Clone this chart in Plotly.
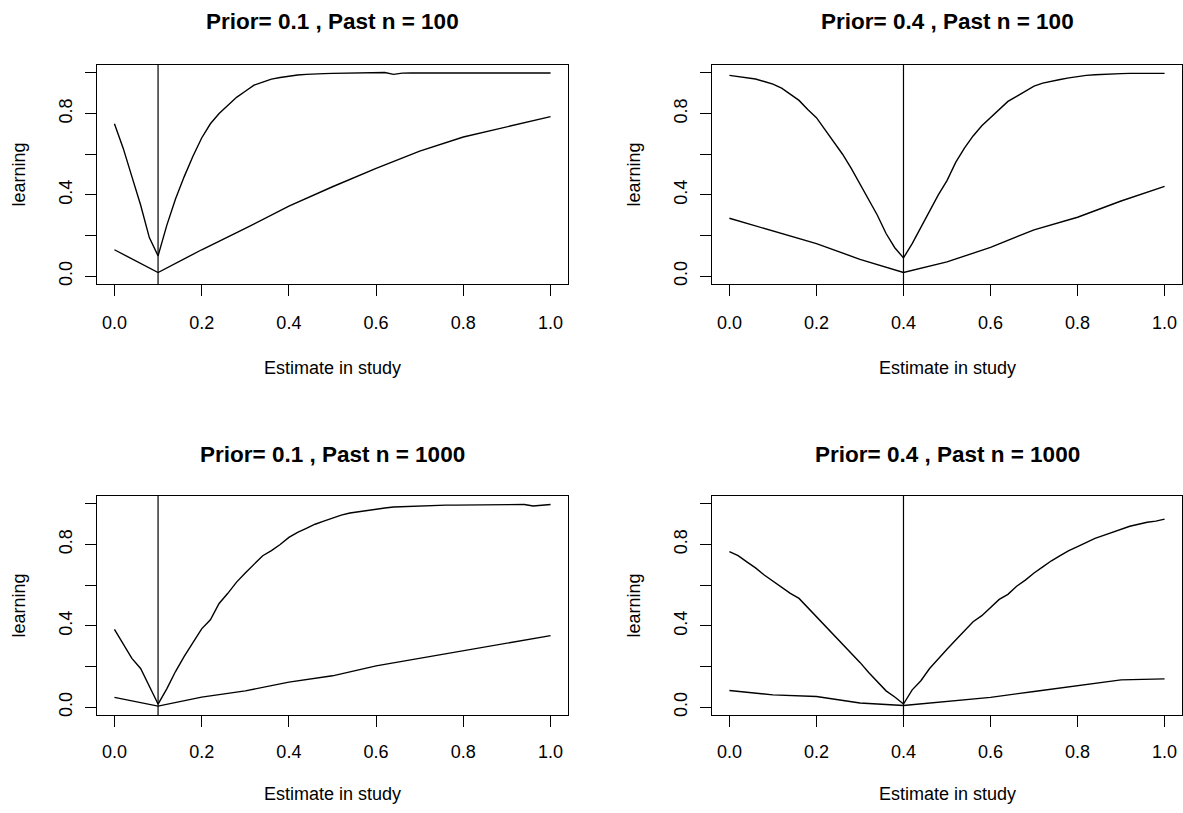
import plotly.graph_objects as go

# ---------------- data ----------------
titles = ["Prior= 0.1 , Past n = 100", "Prior= 0.4 , Past n = 100",
          "Prior= 0.1 , Past n = 1000", "Prior= 0.4 , Past n = 1000"]
priors = [0.1, 0.4, 0.1, 0.4]

x_fine = [round(i * 0.02, 2) for i in range(51)]
x_coarse = [0.0, 0.1, 0.2, 0.3, 0.4, 0.5, 0.6, 0.7, 0.8, 0.9, 1.0]

fine_p01_n100 = [0.75, 0.63, 0.49, 0.35, 0.19, 0.10, 0.25, 0.38, 0.49, 0.59,
                 0.68, 0.75, 0.80, 0.84, 0.88, 0.91, 0.94, 0.955, 0.97, 0.978,
                 0.985, 0.99, 0.993, 0.996, 0.997, 0.998, 0.999, 0.999, 0.999, 0.999,
                 1.0, 1.002, 0.993, 0.999, 1.0, 1.0, 1.0, 1.0, 1.0, 1.0,
                 1.0, 1.0, 1.0, 1.0, 1.0, 1.0, 1.0, 1.0, 1.0, 1.0, 1.0]
coarse_p01_n100 = [0.13, 0.018, 0.13, 0.235, 0.345, 0.44, 0.53, 0.615, 0.685, 0.735, 0.785]

fine_p04_n100 = [0.988, 0.983, 0.977, 0.97, 0.958, 0.945, 0.925, 0.897, 0.865, 0.82,
                 0.78, 0.72, 0.66, 0.60, 0.53, 0.455, 0.375, 0.30, 0.21, 0.14,
                 0.09, 0.16, 0.24, 0.32, 0.40, 0.47, 0.56, 0.63, 0.69, 0.74,
                 0.78, 0.82, 0.86, 0.885, 0.91, 0.935, 0.95, 0.96, 0.968, 0.976,
                 0.983, 0.988, 0.991, 0.994, 0.996, 0.997, 0.998, 0.998, 0.998, 0.998, 0.998]
coarse_p04_n100 = [0.285, 0.222, 0.16, 0.083, 0.018, 0.07, 0.142, 0.228, 0.29, 0.37, 0.442]

fine_p01_n1000 = [0.383, 0.31, 0.24, 0.19, 0.10, 0.015, 0.09, 0.175, 0.25, 0.32,
                  0.385, 0.43, 0.51, 0.56, 0.615, 0.66, 0.70, 0.745, 0.77, 0.80,
                  0.835, 0.86, 0.88, 0.90, 0.915, 0.93, 0.945, 0.955, 0.962, 0.968,
                  0.973, 0.98, 0.985, 0.987, 0.988, 0.99, 0.993, 0.994, 0.994, 0.994,
                  0.994, 0.994, 0.994, 0.994, 0.994, 0.995, 0.995, 0.997, 0.99, 0.995, 0.997]
coarse_p01_n1000 = [0.048, 0.005, 0.049, 0.08, 0.123, 0.154, 0.203, 0.24, 0.278, 0.314, 0.352]

fine_p04_n1000 = [0.765, 0.745, 0.715, 0.685, 0.65, 0.62, 0.59, 0.56, 0.535, 0.49,
                  0.45, 0.405, 0.36, 0.31, 0.265, 0.22, 0.17, 0.125, 0.08, 0.05,
                  0.015, 0.085, 0.13, 0.19, 0.24, 0.285, 0.33, 0.375, 0.42, 0.45,
                  0.49, 0.53, 0.555, 0.595, 0.625, 0.66, 0.69, 0.72, 0.745, 0.77,
                  0.79, 0.81, 0.83, 0.845, 0.86, 0.875, 0.89, 0.90, 0.91, 0.915, 0.925]
coarse_p04_n1000 = [0.082, 0.06, 0.052, 0.02, 0.008, 0.028, 0.048, 0.077, 0.107, 0.134, 0.139]

fine_series = [fine_p01_n100, fine_p04_n100, fine_p01_n1000, fine_p04_n1000]
coarse_series = [coarse_p01_n100, coarse_p04_n100, coarse_p01_n1000, coarse_p04_n1000]

x_ticks = [0.0, 0.2, 0.4, 0.6, 0.8, 1.0]
x_ticklabels = ["0.0", "0.2", "0.4", "0.6", "0.8", "1.0"]
y_ticks = [0.0, 0.2, 0.4, 0.6, 0.8, 1.0]
y_ticklabels = ["0.0", "", "0.4", "", "0.8", ""]

# ---------------- layout (pixels) ----------------
W, H = 1183, 813
FONT = "Liberation Sans, Arial, Helvetica, sans-serif"
box_left = [97, 712, 97, 712]
box_right = [568, 1182, 568, 1182]
box_top = [65, 65, 497, 497]
box_bottom = [285, 285, 717, 717]
title_y = [22, 22, 456, 456]
xtitle_y = [369, 369, 796, 796]
xlab_standoff = [11, 11, 9, 9]

fig = go.Figure()
layout = dict(width=W, height=H, margin=dict(l=0, r=0, t=0, b=0),
              paper_bgcolor="white", plot_bgcolor="white", showlegend=False,
              font=dict(family=FONT, size=18, color="black"))
annotations = []
shapes = []

for i in range(4):
    xa = "xaxis" if i == 0 else f"xaxis{i+1}"
    ya = "yaxis" if i == 0 else f"yaxis{i+1}"
    xr = "x" if i == 0 else f"x{i+1}"
    yr = "y" if i == 0 else f"y{i+1}"
    xd = [box_left[i] / W, box_right[i] / W]
    yd = [1 - box_bottom[i] / H, 1 - box_top[i] / H]
    layout[xa] = dict(domain=xd, anchor=yr, range=[-0.04, 1.04],
                      tickvals=x_ticks, ticktext=x_ticklabels,
                      ticks="outside", ticklen=11, tickwidth=1, tickcolor="black",
                      showline=True, mirror=True, linecolor="black", linewidth=1,
                      showgrid=False, zeroline=False,
                      ticklabelstandoff=xlab_standoff[i],
                      tickfont=dict(family=FONT, size=18, color="black"))
    layout[ya] = dict(domain=yd, anchor=xr, range=[-0.04, 1.04],
                      tickvals=y_ticks, ticktext=y_ticklabels, tickangle=-90,
                      ticks="outside", ticklen=11, tickwidth=1, tickcolor="black",
                      showline=True, mirror=True, linecolor="black", linewidth=1,
                      showgrid=False, zeroline=False, ticklabelstandoff=6,
                      tickfont=dict(family=FONT, size=18, color="black"))

    fig.add_trace(go.Scatter(x=x_fine, y=fine_series[i], mode="lines",
                             line=dict(color="black", width=1.4),
                             xaxis=xr, yaxis=yr, hoverinfo="skip"))
    fig.add_trace(go.Scatter(x=x_coarse, y=coarse_series[i], mode="lines",
                             line=dict(color="black", width=1.4),
                             xaxis=xr, yaxis=yr, hoverinfo="skip"))
    shapes.append(dict(type="line", xref=xr, yref=f"{yr} domain",
                       x0=priors[i], x1=priors[i], y0=0, y1=1,
                       line=dict(color="black", width=1.2)))

    cx = (box_left[i] + box_left[i] + 471) / 2 / W
    annotations.append(dict(text=f"<b>{titles[i]}</b>", xref="paper", yref="paper",
                            x=cx, y=1 - title_y[i] / H,
                            xanchor="center", yanchor="middle", showarrow=False,
                            font=dict(family=FONT, size=22.5, color="black")))
    annotations.append(dict(text="Estimate in study", xref="paper", yref="paper",
                            x=cx, y=1 - xtitle_y[i] / H,
                            xanchor="center", yanchor="middle", showarrow=False,
                            font=dict(family=FONT, size=18, color="black")))
    annotations.append(dict(text="learning", xref="paper", yref="paper",
                            x=(box_left[i] - 78) / W,
                            y=1 - (box_top[i] + box_bottom[i]) / 2 / H,
                            xanchor="center", yanchor="middle", textangle=-90,
                            showarrow=False,
                            font=dict(family=FONT, size=18, color="black")))

layout["annotations"] = annotations
layout["shapes"] = shapes
fig.update_layout(**layout)
fig.write_html("out.html",
               config={"displayModeBar": False, "staticPlot": True},
               post_script="document.body.style.margin='0px';"
                           "document.body.style.padding='0px';"
                           "document.body.style.overflow='hidden';")
